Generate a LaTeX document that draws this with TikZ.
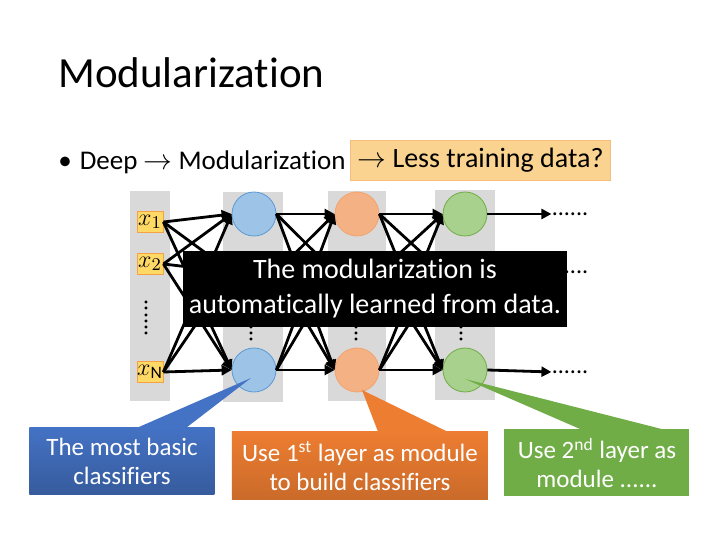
\documentclass[tikz,border=0pt]{standalone}
\usepackage{fontspec}
\setmainfont{Carlito}[Ligatures=NoCommon]
\usetikzlibrary{positioning,arrows.meta,calc}
\definecolor{gris}{HTML}{D9D9D9}
\definecolor{azul}{HTML}{4472C4}
\definecolor{azulclaro}{HTML}{9DC3E6}
\definecolor{azulborde}{HTML}{5B9BD5}
\definecolor{naranja}{HTML}{ED7D31}
\definecolor{salmon}{HTML}{F4B183}
\definecolor{verde}{HTML}{70AD47}
\definecolor{verdeclaro}{HTML}{A9D18E}
\definecolor{amarillo}{HTML}{FFD966}
\definecolor{resalte}{HTML}{FBD391}
\newcommand{\flecha}{${\rightarrow}$}

\begin{document}
\begin{tikzpicture}[x=0.5pt, y=-0.5pt, >={Triangle[length=5pt,width=5pt]},
    col/.style={fill=gris, minimum width=30pt, minimum height=105pt, inner sep=0pt},
    inp/.style={draw=naranja!60!amarillo, fill=amarillo, minimum width=13pt, minimum height=10.5pt,
                inner sep=0pt, font=\fontsize{12.5}{12}\selectfont},
    neu/.style={circle, minimum size=22pt, inner sep=0pt, line width=0.4pt},
    oculto/.style={circle, minimum size=22pt, inner sep=0pt},
    conn/.style={->, line width=1.4pt},
    pts/.style={inner sep=0pt, font=\fontsize{12}{12}\selectfont},
    call/.style={text=white, align=center, inner sep=0pt, font=\fontsize{12.5}{14.5}\selectfont}]
  \fill[white] (0,0) rectangle (720,540);
  \useasboundingbox (0,0) rectangle (720,540);
  \node[anchor=base west, inner sep=0pt, font=\fontsize{21.5}{26}\selectfont] (titulo) at (58,88) {Modularization};
  \node[anchor=base west, inner sep=0pt, font=\fontsize{13.5}{17}\selectfont] (punto) at (58,170)
    {\textbullet\hspace{4pt}Deep \flecha\ Modularization};
  \node[draw=salmon!70!amarillo, fill=resalte, anchor=west, minimum width=130pt, minimum height=20pt,
        inner sep=3.5pt, font=\fontsize{14}{17}\selectfont] (menos) at (350,160) {\flecha\ Less training data?};
  % capas
  \node[col, minimum width=20pt] (c0) at (150,296) {};
  \node[col] (c1) at (253,297) {};
  \node[col, minimum width=29pt] (c2) at (357,296) {};
  \node[col] (c3) at (465,295) {};
  \node[inp] (x1) at (150,222) {$x_1$};
  \node[inp] (x2) at (150,264) {$x_2$};
  \node[inp] (x3) at (150,372) {$x_{\mathrm{N}}$};
  \node[neu, draw=azulborde, fill=azulclaro] (b1) at (254,214) {};
  \node[oculto] (b2) at (254,272) {};
  \node[neu, draw=azulborde, fill=azulclaro] (b3) at (254,370) {};
  \node[neu, draw=naranja!70, fill=salmon] (o1) at (357,214) {};
  \node[oculto] (o2) at (357,272) {};
  \node[neu, draw=naranja!70, fill=salmon] (o3) at (357,370) {};
  \node[neu, draw=verde, fill=verdeclaro] (g1) at (465,214) {};
  \node[oculto] (g2) at (465,272) {};
  \node[neu, draw=verde, fill=verdeclaro] (g3) at (465,370) {};
  \node[pts] (e1) at (570,214) {......};
  \node[pts] (e2) at (570,272) {......};
  \node[pts] (e3) at (570,372) {......};
  \foreach \a/\b in {x/b,b/o,o/g} \foreach \i in {1,2,3} \foreach \j in {1,2,3}
    \draw[conn] (\a\i.east) -- (\b\j.west);
  \foreach \j in {1,2,3} \draw[conn] (g\j.east) -- (e\j.west);
  \node[pts, rotate=90] (d0) at (146,318) {......};
  \node[pts, rotate=90] (d1) at (251,324) {......};
  \node[pts, rotate=90] (d2) at (356,324) {......};
  \node[pts, rotate=90] (d3) at (461,324) {......};
  \node[fill=black, text=white, align=center, minimum width=192pt, minimum height=38pt, inner sep=0pt,
        font=\fontsize{14}{17.5}\selectfont] (aviso) at (375,289)
    {The modularization is\\automatically learned from data.};
  % llamadas
  \node[call, top color=azul, bottom color=azul!80!black, minimum width=92.5pt, minimum height=33.5pt] (cb) at (122,461)
    {The most basic\\classifiers};
  \node[call, top color=naranja, bottom color=naranja!85!black, minimum width=128pt, minimum height=34pt] (co) at (360,466)
    {Use 1\textsuperscript{st} layer as module\\to build classifiers};
  \node[call, fill=verde, minimum width=92.5pt, minimum height=33.5pt] (cg) at (597,463)
    {Use 2\textsuperscript{nd} layer as\\module ......};
  \coordinate (pb) at (251,378);
  \coordinate (po) at (362,390);
  \coordinate (pg) at (465,379);
  \fill[azul] ($(cb.north west)!0.59!(cb.north east)$) -- (pb) -- ($(cb.north west)!0.85!(cb.north east)$) -- cycle;
  \fill[naranja] ($(co.north west)!0.57!(co.north east)$) -- (po) -- ($(co.north west)!0.84!(co.north east)$) -- cycle;
  \fill[verde] ($(cg.north west)!0.41!(cg.north east)$) -- (pg) -- ($(cg.north west)!0.85!(cg.north east)$) -- cycle;
\end{tikzpicture}
\end{document}
